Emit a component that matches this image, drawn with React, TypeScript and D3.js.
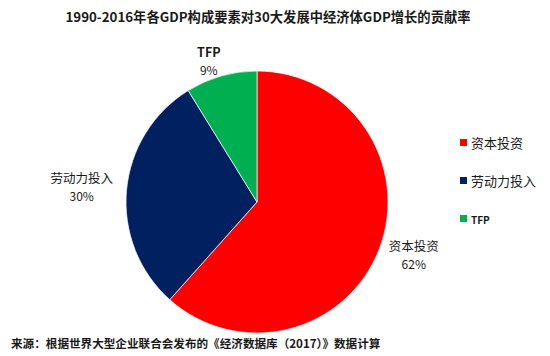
import React from "react";
import * as d3 from "d3";

const categories = ["资本投资", "劳动力投入", "TFP"];
const values = [61.6, 29.6, 8.8];
const labels = ["62%", "30%", "9%"];
const colors = ["#FF0000", "#002060", "#00B050"];

const title = "1990-2016年各GDP构成要素对30大发展中经济体GDP增长的贡献率";
const source = "来源：根据世界大型企业联合会发布的《经济数据库（2017）》数据计算";

const W = 550, H = 356;
const cx = 257, cy = 202, R = 131;
const FONT = "'Noto Sans CJK SC', 'Noto Sans', sans-serif";

export default function App() {
  const pie = d3.pie<number>().sort(null).value((d) => d);
  const arcs = pie(values);
  const arcGen = d3.arc<d3.PieArcDatum<number>>().innerRadius(0).outerRadius(R);
  const labelArc = d3.arc<d3.PieArcDatum<number>>().innerRadius(R + 40).outerRadius(R + 40);
  const labelOffsets = [[-3, -12], [-5, -4], [-1.5, 19.5]];
  const legendY = [143, 181, 219];
  return (
    <svg width={W} height={H} style={{ position: "absolute", left: 0, top: 0, background: "#fff" }}>
      <rect width={W} height={H} fill="#fff" />
      <text x={268} y={22} textAnchor="middle" fontFamily={FONT} fontSize={13.3} fontWeight="bold" fill="#1a1a1a">
        {title}
      </text>
      <g transform={`translate(${cx},${cy})`}>
        {arcs.map((a, i) => (
          <path key={i} d={arcGen(a) || ""} fill={colors[i]} stroke="#fff" strokeWidth={0.7} />
        ))}
      </g>
      {arcs.map((a, i) => {
        const [lx, ly] = labelArc.centroid(a);
        const x = cx + lx + labelOffsets[i][0];
        const y = cy + ly + labelOffsets[i][1];
        return (
          <g key={i} fontFamily={FONT} fill="#1a1a1a" textAnchor="middle">
            <text x={x} y={y} fontSize={12.5} fontWeight={i === 2 ? "bold" : "normal"}>{categories[i]}</text>
            <text x={x} y={y + 18} fontSize={12}>{labels[i]}</text>
          </g>
        );
      })}
      {categories.map((c, i) => {
        const y = legendY[i];
        return (
          <g key={c} fontFamily={FONT}>
            <rect x={460} y={y - 4} width={7} height={7} fill={colors[i]} />
            <text x={471} y={y + 4.5} fontSize={i === 2 ? 10 : 13} fontWeight={i === 2 ? "bold" : "normal"} fill="#1a1a1a">{c}</text>
          </g>
        );
      })}
      <text x={11} y={348} fontFamily={FONT} fontSize={11.6} fontWeight="bold" fill="#1a1a1a">
        {source}
      </text>
    </svg>
  );
}
